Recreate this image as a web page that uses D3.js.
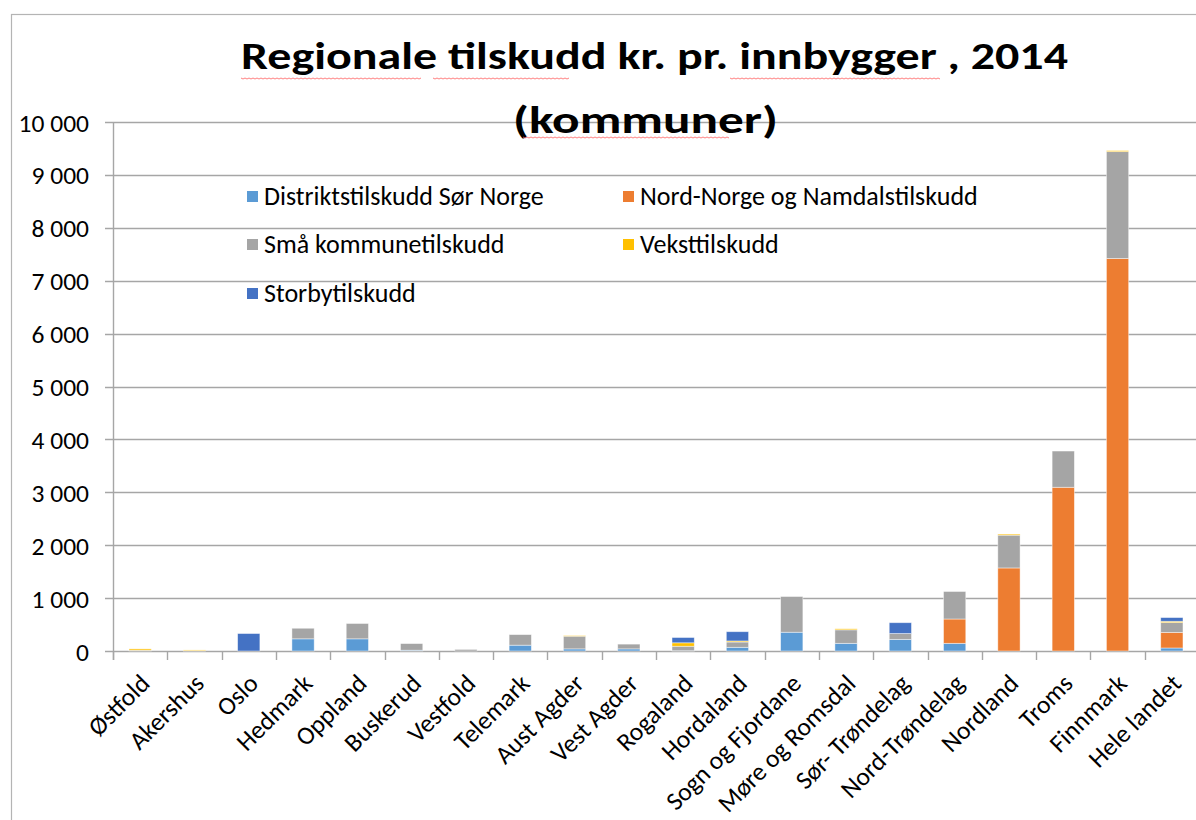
<!DOCTYPE html>
<html>
<head>
<meta charset="utf-8">
<script src="https://cdn.jsdelivr.net/npm/d3@7"></script>
<style>
  html, body { margin: 0; padding: 0; background: #fff; }
  svg { display: block; }
  text { font-family: Carlito, Lato, "Open Sans", sans-serif; fill: #000; }
</style>
</head>
<body>
<svg id="chart" width="1196" height="820"></svg>
<script>
// ---------- data ----------
const categories = ["Østfold","Akershus","Oslo","Hedmark","Oppland","Buskerud","Vestfold","Telemark","Aust Agder","Vest Agder","Rogaland","Hordaland","Sogn og Fjordane","Møre og Romsdal","Sør- Trøndelag","Nord-Trøndelag","Nordland","Troms","Finnmark","Hele landet"];
const seriesNames = ["Distriktstilskudd Sør Norge","Nord-Norge og Namdalstilskudd","Små kommunetilskudd","Veksttilskudd","Storbytilskudd"];
const distrikt = [0,0,0,230,230,15,0,110,40,40,5,70,355,145,220,145,0,0,0,57];
const nordNorge = [0,0,0,0,0,0,0,0,0,0,0,0,0,0,0,460,1570,3095,7420,295];
const smaa = [15,5,0,200,290,125,30,200,240,90,85,100,675,255,110,520,620,685,2020,185];
const vekst = [25,15,0,0,0,0,0,0,10,0,65,20,0,20,0,0,20,0,20,25];
const storby = [0,0,330,0,0,0,0,0,0,0,100,175,0,0,205,0,0,0,0,70];
const yTicks = [0,1000,2000,3000,4000,5000,6000,7000,8000,9000,10000];
const titleLines = ["Regionale tilskudd kr. pr. innbygger , 2014","(kommuner)"];

// ---------- styles ----------
const colors = ["#5B9BD5","#ED7D31","#A5A5A5","#FFC000","#4472C4"];
const svg = d3.select("#chart");
const M = {left:113, top:122, bottom:651};
const step = 54.3;
const right = M.left + step*categories.length;
const fs = 25.5;

// outer chart border
svg.append("rect").attr("x",11.5).attr("y",14.5).attr("width",1300).attr("height",900)
  .attr("fill","none").attr("stroke","#b4b4b4").attr("stroke-width",1.2);

const x = d3.scaleBand().domain(categories).range([M.left, right]).padding(0);
const y = d3.scaleLinear().domain([0,10000]).range([M.bottom, M.top]);

const fmt = d3.formatLocale({decimal:",", thousands:" ", grouping:[3], currency:["","kr"]}).format(",d");

// gridlines
svg.append("g").selectAll("line").data(yTicks).join("line")
  .attr("x1",M.left-8).attr("x2",right)
  .attr("y1",d=>Math.round(y(d))+0.5).attr("y2",d=>Math.round(y(d))+0.5)
  .attr("stroke","#a6a6a6").attr("stroke-width",1.4);

// y tick labels
svg.append("g").selectAll("text").data(yTicks).join("text")
  .attr("x",89).attr("y",d=>y(d)+9.5)
  .attr("text-anchor","end").attr("font-size",fs).text(d=>fmt(d));

// y axis line
svg.append("line").attr("x1",M.left+0.5).attr("x2",M.left+0.5).attr("y1",M.top).attr("y2",M.bottom+9)
  .attr("stroke","#a6a6a6").attr("stroke-width",1.4);

// x ticks at band boundaries
const bounds = d3.range(categories.length+1).map(i=>M.left+i*x.step());
svg.append("g").selectAll("line").data(bounds).join("line")
  .attr("x1",d=>Math.round(d)+0.5).attr("x2",d=>Math.round(d)+0.5)
  .attr("y1",M.bottom).attr("y2",M.bottom+9)
  .attr("stroke","#a6a6a6").attr("stroke-width",1.4);

// stacked bars
const rows = categories.map((c,i)=>({cat:c, s0:distrikt[i], s1:nordNorge[i], s2:smaa[i], s3:vekst[i], s4:storby[i]}));
const stack = d3.stack().keys(["s0","s1","s2","s3","s4"])(rows);
const barW = x.bandwidth()*0.41;
const barOff = (x.bandwidth()-barW)/2;
svg.append("g").selectAll("g").data(stack).join("g")
  .attr("fill",(d,i)=>colors[i])
  .selectAll("rect").data(d=>d.filter(p=>p[1]-p[0]>0)).join("rect")
  .attr("x",d=>x(d.data.cat)+barOff)
  .attr("width",barW)
  .attr("y",d=>y(d[1]))
  .attr("height",d=>y(d[0])-y(d[1]))
  .attr("stroke","#ffffff").attr("stroke-opacity",0.55).attr("stroke-width",0.8);

// x labels
svg.append("g").selectAll("text").data(categories).join("text")
  .attr("transform",d=>`translate(${x(d)+x.bandwidth()/2+11},${M.bottom+34}) rotate(-45)`)
  .attr("text-anchor","end").attr("font-size",fs).text(d=>d);

// legend
const legendPos = [[247,196],[623,196],[247,244],[623,244],[247,293]];
const lg = svg.append("g").selectAll("g").data(seriesNames).join("g")
  .attr("transform",(d,i)=>`translate(${legendPos[i][0]},${legendPos[i][1]})`);
lg.append("rect").attr("x",0).attr("y",-5).attr("width",11).attr("height",11).attr("fill",(d,i)=>colors[i]);
lg.append("text").attr("x",17).attr("y",9).attr("font-size",26).text(d=>d);

// title
svg.append("text").attr("x",654.5).attr("y",69).attr("text-anchor","middle")
  .attr("font-size",39).attr("font-weight","bold")
  .attr("textLength",827).attr("lengthAdjust","spacingAndGlyphs").text(titleLines[0]);
svg.append("text").attr("x",645.5).attr("y",133).attr("text-anchor","middle")
  .attr("font-size",39).attr("font-weight","bold")
  .attr("textLength",265).attr("lengthAdjust","spacingAndGlyphs").text(titleLines[1]);

// spell-check squiggles under title words
const squig = [[241,423,78],[433,570,78],[730,942,78],[523,730,137]];
squig.forEach(([a,b,yy])=>{
  const pts = d3.range(a,b,2).map((xx,k)=>[xx, yy+(k%2?1:0)]);
  svg.append("path").attr("d",d3.line()(pts)).attr("fill","none")
    .attr("stroke","#ff6060").attr("stroke-width",0.8);
});
</script>
</body>
</html>
